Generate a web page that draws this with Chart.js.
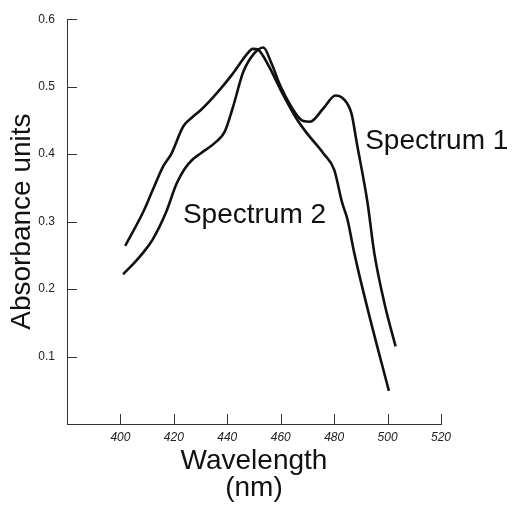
<!DOCTYPE html>
<html>
<head>
<meta charset="utf-8">
<script src="https://cdn.jsdelivr.net/npm/chart.js@4/dist/chart.umd.min.js"></script>
<style>
  html, body { margin: 0; padding: 0; background: #fff; }
</style>
</head>
<body>
<canvas id="chart" width="516" height="505"></canvas>
<script>
// wavelength (nm) and absorbance
const spectrum1Nm  = [401, 405, 408.5, 412, 417, 421, 424, 427, 430, 436, 439, 442, 446, 450, 453.5, 456.5, 460, 466, 468.5, 471, 476, 480.5, 483.5, 486.5, 488.5, 492.5, 495, 499, 503];
const spectrum1Abs = [0.222, 0.238, 0.254, 0.273, 0.313, 0.356, 0.378, 0.392, 0.401, 0.419, 0.433, 0.468, 0.522, 0.549, 0.558, 0.535, 0.50, 0.458, 0.449, 0.448, 0.468, 0.487, 0.482, 0.46, 0.416, 0.328, 0.254, 0.176, 0.115];

const spectrum2Nm  = [401.8, 408.6, 412, 416, 419, 423.5, 427, 430, 436, 442, 447.5, 449.5, 451.5, 453, 456, 460, 466, 470, 476, 480, 483, 485, 487.5, 492.5, 500.5];
const spectrum2Abs = [0.264, 0.315, 0.346, 0.382, 0.40, 0.441, 0.455, 0.465, 0.49, 0.519, 0.549, 0.556, 0.555, 0.548, 0.527, 0.495, 0.452, 0.430, 0.401, 0.377, 0.328, 0.303, 0.254, 0.171, 0.049];

const seriesNames = ['Spectrum 1', 'Spectrum 2'];
const xTicks = [400, 420, 440, 460, 480, 500, 520];
const yTicks = [0.1, 0.2, 0.3, 0.4, 0.5, 0.6];

const toPoints = (xs, ys) => xs.map((x, i) => ({ x: x, y: ys[i] }));

Chart.defaults.font.family = '"Liberation Sans", Arial, sans-serif';
Chart.defaults.color = '#111';

// small tick marks pointing into the plot, plus the curve names
const extras = {
  id: 'extras',
  afterDraw(chart) {
    const ctx = chart.ctx;
    const xs = chart.scales.x, ys = chart.scales.y;
    const area = chart.chartArea;
    ctx.save();
    ctx.strokeStyle = '#333';
    ctx.lineWidth = 1;
    ctx.beginPath();
    xs.ticks.forEach(t => {
      const px = Math.round(xs.getPixelForValue(t.value)) + 0.5;
      ctx.moveTo(px, area.bottom);
      ctx.lineTo(px, area.bottom - 10);
    });
    ys.ticks.forEach(t => {
      const py = Math.round(ys.getPixelForValue(t.value)) + 0.5;
      ctx.moveTo(area.left, py);
      ctx.lineTo(area.left + 10, py);
    });
    ctx.stroke();

    ctx.fillStyle = '#111';
    ctx.font = '28px "Liberation Sans", Arial, sans-serif';
    ctx.textBaseline = 'alphabetic';
    ctx.textAlign = 'left';
    const spots = [[491.6, 0.408], [423.4, 0.298]];
    seriesNames.forEach((name, i) => {
      ctx.fillText(name, xs.getPixelForValue(spots[i][0]), ys.getPixelForValue(spots[i][1]));
    });
    ctx.restore();
  }
};

new Chart(document.getElementById('chart'), {
  type: 'line',
  data: {
    datasets: [
      {
        label: seriesNames[0],
        data: toPoints(spectrum1Nm, spectrum1Abs),
        borderColor: '#111',
        borderWidth: 2.6,
        pointRadius: 0,
        cubicInterpolationMode: 'monotone',
        fill: false
      },
      {
        label: seriesNames[1],
        data: toPoints(spectrum2Nm, spectrum2Abs),
        borderColor: '#111',
        borderWidth: 2.6,
        pointRadius: 0,
        cubicInterpolationMode: 'monotone',
        fill: false
      }
    ]
  },
  options: {
    responsive: false,
    animation: false,
    layout: { padding: { top: 15, right: 75, bottom: 0, left: 0 } },
    plugins: {
      legend: { display: false },
      tooltip: { enabled: false }
    },
    scales: {
      x: {
        type: 'linear',
        min: 380,
        max: 520,
        afterBuildTicks: s => { s.ticks = xTicks.map(v => ({ value: v })); },
        afterFit: s => { s.height = 81; },
        grid: { display: false, drawTicks: false },
        border: { display: true, color: '#333', width: 1 },
        ticks: {
          padding: 6,
          font: { size: 12, style: 'italic' },
          color: '#222',
          maxRotation: 0
        },
        title: {
          display: true,
          text: ['Wavelength', '(nm)'],
          font: { size: 28, lineHeight: 0.96 },
          padding: { top: 0, bottom: 3 },
          color: '#111'
        }
      },
      y: {
        min: 0,
        max: 0.6,
        afterBuildTicks: s => { s.ticks = yTicks.map(v => ({ value: v })); },
        afterFit: s => { s.width = 67; },
        grid: { display: false, drawTicks: false },
        border: { display: true, color: '#333', width: 1 },
        ticks: {
          padding: 12,
          font: { size: 12 },
          color: '#222',
          callback: v => v.toFixed(1)
        },
        title: {
          display: true,
          text: 'Absorbance units',
          font: { size: 28, lineHeight: 1 },
          padding: { top: 8, bottom: 0 },
          color: '#111'
        }
      }
    }
  },
  plugins: [extras]
});
</script>
</body>
</html>
